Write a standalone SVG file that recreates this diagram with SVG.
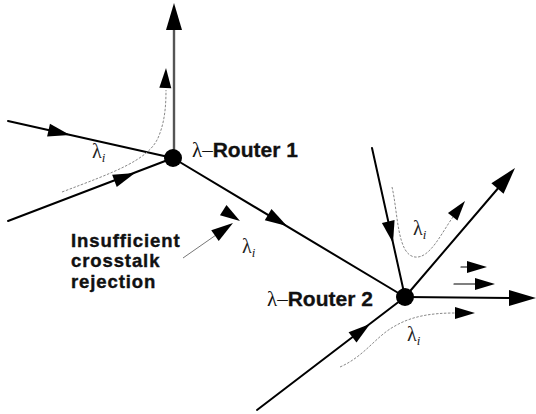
<svg xmlns="http://www.w3.org/2000/svg" xmlns:xlink="http://www.w3.org/1999/xlink" width="536" height="414" viewBox="0 0 536 414">
<style>
.ln{stroke:#000;stroke-width:2;fill:none;stroke-linecap:round}
.gr{stroke:#555;stroke-width:2.4;fill:none}
.dot{stroke:#888;stroke-width:1;fill:none;stroke-dasharray:2.5,1.5}
.thin{stroke:#777;stroke-width:1;fill:none}
.lbl{font-family:"Liberation Sans",Arial,sans-serif;font-weight:bold;font-size:21px;fill:#111;stroke:#111;stroke-width:0.3}
.note{font-family:"Liberation Sans",Arial,sans-serif;font-weight:bold;font-size:18.5px;letter-spacing:0.9px;fill:#111;stroke:#111;stroke-width:0.4}
.sym{font-family:"Liberation Serif","Times New Roman",serif;font-weight:normal;stroke-width:0}
.lam{font-family:"Liberation Serif","Times New Roman",serif;font-size:20px;fill:#222}
.sub{font-style:italic;font-size:13px}
</style>
<defs>
<path id="ah" d="M0,0 L-22,-6.5 L-22,6.5 Z" fill="#000"/>
<path id="ahb" d="M0,0 L-27,-8 L-27,8 Z" fill="#000"/>
<path id="ahs" d="M0,0 L-20,-6 L-20,6 Z" fill="#000"/>
</defs>
<rect width="536" height="414" fill="#fff"/>
<g id="connectors">
<line class="ln" x1="8" y1="121" x2="173" y2="158"/>
<line class="ln" x1="8" y1="221" x2="173" y2="158"/>
<line class="gr" x1="174" y1="158" x2="174" y2="20"/>
<line class="ln" x1="173" y1="158" x2="405" y2="297"/>
<line class="ln" x1="372" y1="148" x2="405" y2="297"/>
<line class="ln" x1="405" y1="297" x2="500" y2="186"/>
<line class="ln" x1="405" y1="297" x2="515" y2="298"/>
<line class="ln" x1="257" y1="410" x2="405" y2="297"/>
<use href="#ah" transform="translate(70,135) rotate(12.6)"/>
<use href="#ah" transform="translate(135,173) rotate(-20.9)"/>
<use href="#ahb" transform="translate(174,3) rotate(-90)"/>
<use href="#ah" transform="translate(287,226) rotate(31)"/>
<use href="#ah" transform="translate(393,243) rotate(77.5)"/>
<use href="#ahb" transform="translate(515,168) rotate(-49.5)"/>
<use href="#ahb" transform="translate(536,298) rotate(0)"/>
<use href="#ah" transform="translate(370,324) rotate(-37.5)"/>
<path class="dot" d="M62,192 C115,172 148,160 158,138 C165,122 166,105 166,90"/>
<use href="#ahs" transform="translate(166,68) rotate(-88)"/>
<path class="dot" d="M392,187 C398,212 397,255 415,257 C430,259 442,232 453,217"/>
<use href="#ahs" transform="translate(465,201) rotate(-52)"/>
<path class="dot" d="M340,367 C365,356 376,336 395,326 C412,316 432,313 455,313"/>
<use href="#ahs" transform="translate(475,313) rotate(0)"/>
<use href="#ahs" transform="translate(240,221) rotate(33)"/>
<line class="thin" x1="183" y1="258" x2="216" y2="235"/>
<use href="#ah" transform="translate(233,223) rotate(-35)"/>
<line class="ln" x1="461" y1="267" x2="470" y2="267" style="stroke-width:1.2"/>
<use href="#ahs" transform="translate(487,267)"/>
<line class="ln" x1="454" y1="284" x2="478" y2="284" style="stroke-width:1.2"/>
<use href="#ahs" transform="translate(495,284)"/>
</g>
<g id="router1">
<circle cx="173" cy="158" r="9" fill="#000"/>
<text class="lbl" x="192" y="157"><tspan class="sym">λ–</tspan>Router 1</text>
</g>
<g id="router2">
<circle cx="405" cy="297" r="9" fill="#000"/>
<text class="lbl" x="267" y="306"><tspan class="sym">λ–</tspan>Router 2</text>
</g>
<g id="crosstalk-label">
<text class="note" x="71" y="246.5">Insufficient</text>
<text class="note" x="71" y="267.2">crosstalk</text>
<text class="note" x="71" y="287.9">rejection</text>
</g>
<g id="lambda-labels">
<text class="lam" x="92" y="158">λ<tspan class="sub" dy="4">i</tspan></text>
<text class="lam" x="242" y="253">λ<tspan class="sub" dy="4">i</tspan></text>
<text class="lam" x="413" y="235">λ<tspan class="sub" dy="4">i</tspan></text>
<text class="lam" x="407" y="341">λ<tspan class="sub" dy="4">i</tspan></text>
</g>
</svg>
